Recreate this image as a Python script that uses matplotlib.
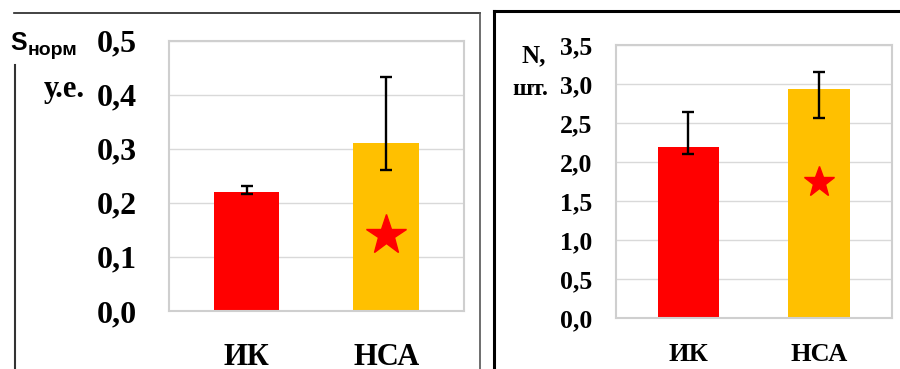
import matplotlib
matplotlib.use("Agg")
import matplotlib.pyplot as plt
from matplotlib.lines import Line2D

# data for the two panels
groups = ["ИК", "НСА"]
area_vals = [0.22, 0.31]
area_err_lo = [0.003, 0.05]
area_err_hi = [0.011, 0.122]
area_star = 0.14

count_vals = [2.2, 2.94]
count_err_lo = [0.09, 0.37]
count_err_hi = [0.44, 0.22]
count_star = 1.75

area_ticks = [0.0, 0.1, 0.2, 0.3, 0.4, 0.5]
count_ticks = [0.0, 0.5, 1.0, 1.5, 2.0, 2.5, 3.0, 3.5]

bar_colors = ["#ff0000", "#ffc000"]
serif = "Liberation Serif"
W, H = 900, 369

fig = plt.figure(figsize=(9, 3.69), dpi=100)


def px_axes(x0, y0, x1, y1):
    return fig.add_axes([x0 / W, 1 - y1 / H, (x1 - x0) / W, (y1 - y0) / H])


def draw_panel(ax, vals, lo, hi, star, ticks, tick_fs, pad, xfs, xpad, ms, fmt):
    x = range(len(groups))
    ax.bar(x, vals, width=0.47, color=bar_colors, zorder=2)
    ax.errorbar(x, vals, yerr=[lo, hi], fmt="none", ecolor="black",
                elinewidth=1.7, capsize=4, capthick=1.7, zorder=3)
    ax.plot([1], [star], marker="*", color="#ff0000", markersize=ms,
            linestyle="none", zorder=4)
    ax.set_xlim(-0.557, 1.558)
    ax.set_ylim(ticks[0], ticks[-1])
    ax.set_yticks(ticks)
    ax.set_yticklabels([fmt(t) for t in ticks], fontfamily=serif,
                       fontweight="bold", fontsize=tick_fs)
    ax.set_xticks(list(x))
    ax.set_xticklabels(groups, fontfamily=serif, fontweight="bold", fontsize=xfs)
    ax.tick_params(axis="y", length=0, pad=pad)
    ax.tick_params(axis="x", length=0, pad=xpad)
    ax.grid(axis="y", color="#d9d9d9", linewidth=1, zorder=0)
    ax.set_axisbelow(True)
    for s in ax.spines.values():
        s.set_color("#cfcfcf")
        s.set_linewidth(1.5)


def comma(t):
    return f"{t:.1f}".replace(".", ",")


ax1 = px_axes(169, 40.5, 464, 311)
draw_panel(ax1, area_vals, area_err_lo, area_err_hi, area_star, area_ticks,
           23, 23, 22, 23, 30, comma)

ax2 = px_axes(615.7, 45, 891.7, 318.3)
draw_panel(ax2, count_vals, count_err_lo, count_err_hi, count_star, count_ticks,
           18.5, 17, 19, 18, 23, comma)

# axis captions
fig.text(10 / W, 1 - 50 / H, "S", fontfamily="Liberation Sans",
         fontweight="bold", fontsize=18, ha="left", va="baseline")
fig.text(28 / W, 1 - 55 / H, "норм", fontfamily="Liberation Sans",
         fontweight="bold", fontsize=14, ha="left", va="baseline")
fig.text(85 / W, 1 - 97 / H, "у.е.", fontfamily=serif,
         fontweight="bold", fontsize=22, ha="right", va="baseline")
fig.text(546 / W, 1 - 62 / H, "N,", fontfamily=serif,
         fontweight="bold", fontsize=18, ha="right", va="baseline")
fig.text(548 / W, 1 - 95 / H, "шт.", fontfamily=serif,
         fontweight="bold", fontsize=17, ha="right", va="baseline")


# frame lines around the panels
def px_line(xs, ys, color, lw):
    fig.add_artist(Line2D([v / W for v in xs], [1 - v / H for v in ys],
                          color=color, linewidth=lw))


px_line([14, 480], [13, 13], "#222222", 1.2)
px_line([15, 15], [65, 369], "#333333", 1.5)
px_line([480, 480], [13, 369], "#555555", 1.2)
px_line([494, 494], [11, 369], "black", 2.2)
px_line([494, 900], [11, 11], "black", 2.2)

fig.savefig("out.png", dpi=100)
